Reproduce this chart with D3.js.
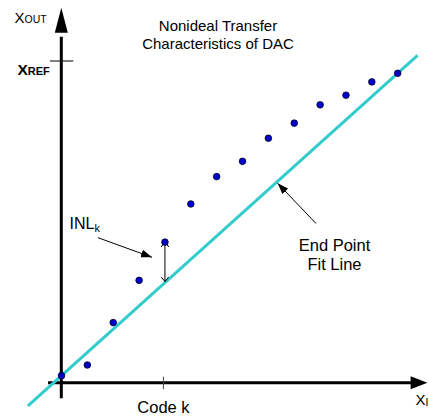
<!DOCTYPE html>
<html>
<head>
<meta charset="utf-8">
<script src="https://cdn.jsdelivr.net/npm/d3@7"></script>
<style>
  html, body { margin: 0; padding: 0; background: #fff; }
  svg { display: block; font-family: "Liberation Sans", Arial, sans-serif; }
</style>
</head>
<body>
<svg id="chart" width="429" height="416"></svg>
<script>
// DAC output for each input code (in LSB units, full scale X_REF = 16)
const codes = [0, 1, 2, 3, 4, 5, 6, 7, 8, 9, 10, 11, 12, 13];
const outputs = [0.35, 0.88, 2.99, 5.09, 6.99, 8.89, 10.25, 11.01, 12.16, 12.91, 13.82, 14.30, 14.96, 15.39];
const fullScale = 16;       // X_REF level
const markedCode = 4;       // code k, where INL_k is shown
const titleLines = ["Nonideal Transfer", "Characteristics of DAC"];
const fitLabel = ["End Point", "Fit Line"];

const svg = d3.select("#chart");

const x = d3.scaleLinear().domain([0, 13]).range([61.5, 397.7]);
const y = d3.scaleLinear().domain([0, fullScale]).range([382.7, 61]);

// end point fit line through the first and last codes
const first = outputs[0], last = outputs[outputs.length - 1];
const fit = k => first + (last - first) * (k - codes[0]) / (codes[codes.length - 1] - codes[0]);

const defs = svg.append("defs");
function headMarker(id, w, h, filled) {
  const m = defs.append("marker")
    .attr("id", id).attr("viewBox", `0 0 ${w} ${h}`)
    .attr("refX", w).attr("refY", h / 2)
    .attr("markerWidth", w).attr("markerHeight", h)
    .attr("markerUnits", "userSpaceOnUse")
    .attr("orient", "auto-start-reverse");
  if (filled) {
    m.append("path").attr("d", `M0,0L${w},${h / 2}L0,${h}Z`).attr("fill", "#000");
  } else {
    m.append("path").attr("d", `M0,0L${w},${h / 2}L0,${h}`)
      .attr("fill", "none").attr("stroke", "#000").attr("stroke-width", 1);
  }
}
headMarker("solid", 11, 8, true);
headMarker("open", 5, 8, false);

// axes
const x0 = x(0), y0 = y(0);
svg.append("line")
  .attr("x1", x.invert ? x(-0.52) : 48).attr("y1", y0)
  .attr("x2", x(13.55)).attr("y2", y0)
  .attr("stroke", "#000").attr("stroke-width", 3);
svg.append("path")
  .attr("d", `M${x(13.5)},${y0 - 6.5}L${x(14.15)},${y0}L${x(13.5)},${y0 + 6.5}Z`)
  .attr("fill", "#000");

svg.append("line")
  .attr("x1", x0 - 0.2).attr("y1", y(-0.77))
  .attr("x2", x0 - 0.2).attr("y2", y(17.2))
  .attr("stroke", "#000").attr("stroke-width", 3);
svg.append("path")
  .attr("d", `M${x0 - 6.7},${y(17.4)}L${x0 - 0.2},${y(18.65)}L${x0 + 6.3},${y(17.4)}Z`)
  .attr("fill", "#000");

// X_REF tick and code k tick
svg.append("line")
  .attr("x1", x0 - 11.5).attr("x2", x0 + 11.8)
  .attr("y1", y(fullScale)).attr("y2", y(fullScale))
  .attr("stroke", "#000").attr("stroke-width", 1);
svg.append("line")
  .attr("x1", x(markedCode) - 1.5).attr("x2", x(markedCode) - 1.5)
  .attr("y1", y0 - 6).attr("y2", y0 + 6.5)
  .attr("stroke", "#444").attr("stroke-width", 1);

// fit line
svg.append("line")
  .attr("x1", x(-1.3)).attr("y1", y(fit(-1.3)))
  .attr("x2", x(13.77)).attr("y2", y(fit(13.77)))
  .attr("stroke", "#33cccc").attr("stroke-width", 3);

// INL_k double arrow
svg.append("line")
  .attr("x1", x(markedCode)).attr("y1", y(outputs[markedCode]))
  .attr("x2", x(markedCode)).attr("y2", y(fit(markedCode)) - 1)
  .attr("stroke", "#000").attr("stroke-width", 1)
  .attr("marker-start", "url(#open)").attr("marker-end", "url(#open)");

// data points
svg.append("g").selectAll("circle")
  .data(codes)
  .join("circle")
  .attr("cx", d => x(d))
  .attr("cy", (d, i) => y(outputs[i]))
  .attr("r", 3.3)
  .attr("fill", "#0000cc")
  .attr("stroke", "#000022")
  .attr("stroke-width", 0.8);

// callout arrows
svg.append("line")
  .attr("x1", 98).attr("y1", 237.7).attr("x2", 152).attr("y2", 257.3)
  .attr("stroke", "#000").attr("stroke-width", 1)
  .attr("marker-end", "url(#solid)");
svg.append("line")
  .attr("x1", 316).attr("y1", 223.5).attr("x2", 277.7).attr("y2", 183.3)
  .attr("stroke", "#000").attr("stroke-width", 1)
  .attr("marker-end", "url(#solid)");

// title
svg.append("text")
  .attr("text-anchor", "middle").attr("font-size", 15).attr("fill", "#000")
  .selectAll("tspan").data(titleLines).join("tspan")
  .attr("x", 218).attr("y", (d, i) => 31 + i * 18).text(d => d);

// fit line label
svg.append("text")
  .attr("text-anchor", "middle").attr("font-size", 16.5).attr("fill", "#000")
  .selectAll("tspan").data(fitLabel).join("tspan")
  .attr("x", 334.5).attr("y", (d, i) => 251 + i * 19).text(d => d);

// labels with subscripts
function subLabel(px, py, main, sub, size, subSize, weight, dy) {
  const t = svg.append("text").attr("x", px).attr("y", py)
    .attr("font-size", size).attr("font-weight", weight).attr("fill", "#000");
  t.append("tspan").text(main);
  t.append("tspan").attr("font-size", subSize).attr("dy", dy).text(sub);
  return t;
}
subLabel(14.5, 22.7, "X", "OUT", 15, 10.5, "normal", 0.5);
subLabel(17.5, 75, "X", "REF", 15.5, 11, "bold", 0);
subLabel(69.5, 229, "INL", "k", 16, 11, "normal", 3);
subLabel(415.5, 405, "X", "IN", 15, 10.5, "normal", 0.5);

svg.append("text")
  .attr("x", x(markedCode) - 1.5).attr("y", 413.3)
  .attr("text-anchor", "middle").attr("font-size", 16.5).attr("fill", "#000")
  .text("Code k");
</script>
</body>
</html>
